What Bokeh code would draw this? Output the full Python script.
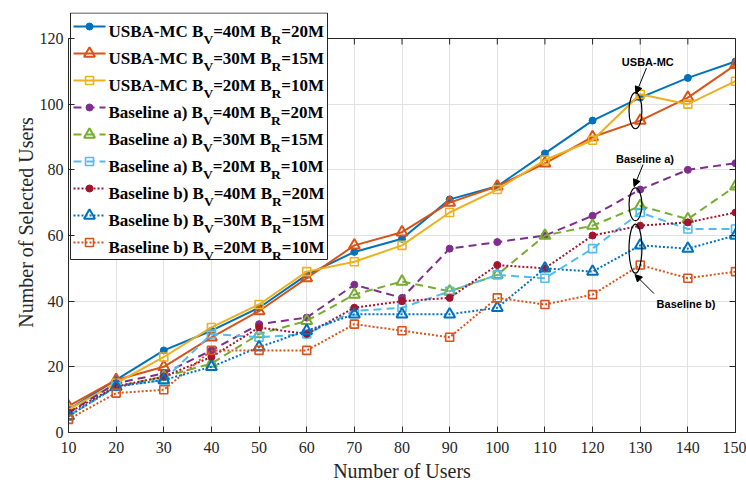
from bokeh.plotting import figure
from bokeh.models import (Range1d, LinearAxis, FixedTicker, Label, Arrow,
                          NormalHead, ColumnDataSource)
from bokeh.embed import file_html
from bokeh.resources import INLINE

# ---------------- data ----------------
users = [10, 20, 30, 40, 50, 60, 70, 80, 90, 100, 110, 120, 130, 140, 150]
usba_40_20 = [7, 16, 25, 31, 38, 48, 55, 59, 71, 75, 85, 95, 102, 108, 113]
usba_30_15 = [8, 16, 20, 29, 37, 47, 57, 61, 70, 75, 82, 90, 95, 102, 112]
usba_20_10 = [7, 15, 23, 32, 39, 49, 52, 57, 67, 74, 83, 89, 103, 100, 107]
base_a_40_20 = [6, 15, 18, 25, 33, 35, 45, 41, 56, 58, 60, 66, 74, 80, 82]
base_a_30_15 = [5, 14, 17, 21, 30, 34, 42, 46, 43, 48, 60, 63, 69, 65, 75]
base_a_20_10 = [5, 14, 16, 30, 29, 30, 37, 38, 43, 48, 47, 56, 67, 62, 62]
base_b_40_20 = [6, 14, 17, 23, 32, 30, 38, 40, 41, 51, 50, 60, 63, 64, 67]
base_b_30_15 = [5, 14, 16, 20, 26, 31, 36, 36, 36, 38, 50, 49, 57, 56, 60]
base_b_20_10 = [4, 12, 13, 25, 25, 25, 33, 31, 29, 41, 39, 42, 51, 47, 49]

series_prefix = ["USBA-MC", "USBA-MC", "USBA-MC",
                 "Baseline a)", "Baseline a)", "Baseline a)",
                 "Baseline b)", "Baseline b)", "Baseline b)"]
bv_labels = ["40M", "30M", "20M", "40M", "30M", "20M", "40M", "30M", "20M"]
br_labels = ["20M", "15M", "10M", "20M", "15M", "10M", "20M", "15M", "10M"]
x_ticks = users
y_ticks = [0, 20, 40, 60, 80, 100, 120]
callout_texts = ["USBA-MC", "Baseline a)", "Baseline b)"]

series = [usba_40_20, usba_30_15, usba_20_10,
          base_a_40_20, base_a_30_15, base_a_20_10,
          base_b_40_20, base_b_30_15, base_b_20_10]

# ---------------- styles ----------------
colors = ["#0072BD", "#D95319", "#EDB120",
          "#7E2F8E", "#77AC30", "#4DBEEE",
          "#A2142F", "#0072BD", "#D95319"]
dashes = ["solid"] * 3 + ["8 5"] * 3 + ["2 2"] * 3
markers = ["circle", "triangle", "square"] * 3

SERIF = "Liberation Serif"
SANS = "Liberation Sans"
AX = "#262626"

W, H = 746, 484
L, R, T, B = 68, 11, 12, 52      # frame borders (frame top extends above the axes box)
BOX_TOP = 38                     # screen y of the y=120 box edge
XMIN, XMAX = 10, 150
YMAX = 120.0
FW = W - L - R
yscale = (H - B - BOX_TOP) / YMAX
y_top = YMAX + (BOX_TOP - T) / yscale


def px2x(sx):
    return XMIN + (sx - L) * (XMAX - XMIN) / FW


def px2y(sy):
    return (H - B - sy) / yscale


p = figure(width=W, height=H, output_backend="svg", toolbar_location=None,
           x_range=Range1d(XMIN, XMAX), y_range=Range1d(0, y_top),
           min_border_left=L, min_border_right=R, min_border_top=T, min_border_bottom=B)
p.background_fill_color = "white"
p.border_fill_color = "white"
p.outline_line_color = None

for ax in (p.xaxis[0], p.yaxis[0]):
    ax.major_label_text_font = SERIF
    ax.major_label_text_font_size = "16px"
    ax.major_label_text_color = AX
    ax.axis_label_text_font = SERIF
    ax.axis_label_text_font_size = "20px"
    ax.axis_label_text_font_style = "normal"
    ax.axis_label_text_color = AX
    ax.axis_line_color = AX
    ax.major_tick_line_color = AX
    ax.major_tick_in = 6
    ax.major_tick_out = 0
    ax.minor_tick_line_color = None

p.xaxis[0].ticker = FixedTicker(ticks=x_ticks)
p.yaxis[0].ticker = FixedTicker(ticks=y_ticks)
p.yaxis[0].bounds = (0, YMAX)
p.xaxis[0].axis_label = "Number of Users"
p.yaxis[0].axis_label = "Number of Selected Users"
p.xaxis[0].major_label_standoff = 9
p.yaxis[0].major_label_standoff = 5
p.xaxis[0].axis_label_standoff = 4
p.yaxis[0].axis_label_standoff = 0

right_ax = LinearAxis(ticker=FixedTicker(ticks=y_ticks), bounds=(0, YMAX))
right_ax.major_label_text_font_size = "1px"
right_ax.major_label_text_color = None
right_ax.major_label_standoff = 0
right_ax.axis_line_color = AX
right_ax.major_tick_line_color = AX
right_ax.major_tick_in = 6
right_ax.major_tick_out = 0
right_ax.minor_tick_line_color = None
p.add_layout(right_ax, "right")

p.xgrid.ticker = FixedTicker(ticks=x_ticks)
p.ygrid.ticker = FixedTicker(ticks=y_ticks)
p.xgrid.grid_line_color = "#e2e2e2"
p.ygrid.grid_line_color = "#e2e2e2"

# white strip above the box (hides grid lines), then the top box edge with inward ticks
p.quad(left=XMIN, right=XMAX, bottom=YMAX, top=y_top, fill_color="white",
       line_color=None)
p.line(x=[XMIN, XMAX], y=[YMAX, YMAX], line_color=AX, line_width=1)
p.segment(x0=x_ticks, y0=[YMAX] * len(x_ticks), x1=x_ticks,
          y1=[YMAX - 6 / yscale] * len(x_ticks), line_color=AX, line_width=1)


def draw_marker(xs, ys, m, c):
    if m == "circle":
        p.scatter(xs, ys, marker="circle", size=7, fill_color=c, line_color=c,
                  line_width=1)
    elif m == "triangle":
        p.scatter(xs, ys, marker="triangle", size=11, fill_color=None,
                  line_color=c, line_width=2)
    else:
        p.scatter(xs, ys, marker="square", size=8, fill_color=None,
                  line_color=c, line_width=1.6)


for ys, c, d, m in zip(series, colors, dashes, markers):
    src = ColumnDataSource(dict(x=users, y=ys))
    p.line("x", "y", source=src, line_color=c, line_width=2, line_dash=d)
    draw_marker(users, ys, m, c)

# ---------------- callouts (ellipses around the x=130 groups) ----------------
groups = [series[0:3], series[3:6], series[6:9]]
idx130 = users.index(130)
ex, ey, eh = [], [], []
for g in groups:
    vals = [s[idx130] for s in g]
    ex.append(129)
    ey.append((min(vals) + max(vals)) / 2 - 1)
    eh.append(max(vals) - min(vals) + 3)
p.ellipse(x=ex, y=ey, width=2.7, height=eh, fill_color=None,
          line_color="black", line_width=1.2)

label_pos = [(131.6, 112.7), (131.0, 83.2), (139.6, 39.0)]
arrows = [((131.3, 111.0), (129.1, 103.2)),
          ((130.6, 81.6), (128.7, 74.9)),
          ((132.9, 42.3), (128.9, 48.1))]
for (tx, ty), txt in zip(label_pos, callout_texts):
    p.add_layout(Label(x=tx, y=ty, text=txt, text_align="center",
                       text_baseline="middle", text_font=SANS,
                       text_font_style="bold", text_font_size="11px",
                       text_color="black"))
for (s, e) in arrows:
    p.add_layout(Arrow(x_start=s[0], y_start=s[1], x_end=e[0], y_end=e[1],
                       line_color="black", line_width=1,
                       end=NormalHead(size=7, fill_color="black", line_color="black")))

# ---------------- legend (drawn by hand to allow subscripts) ----------------
LEG_L, LEG_R, LEG_T, LEG_B = 70, 327, 12.5, 259
ROW0, PITCH = 26, 27
KEY_L, KEY_R, TEXT_X = 73, 105, 108

p.quad(left=px2x(LEG_L), right=px2x(LEG_R), top=px2y(LEG_T), bottom=px2y(LEG_B),
       fill_color="white", line_color=AX, line_width=1)

TB = {' ': 250, '(': 333, ')': 333, '-': 333, '=': 570, '0': 500, '1': 500,
      '2': 500, '3': 500, '4': 500, '5': 500, 'A': 722, 'B': 667, 'C': 722,
      'M': 944, 'R': 722, 'S': 556, 'U': 722, 'V': 722, 'a': 500, 'b': 556,
      'e': 444, 'i': 278, 'l': 278, 'n': 556, 's': 389}


def tw(s, size):
    return sum(TB.get(ch, 500) for ch in s) * size / 1000.0


MAIN, SUB = 17, 13.5
for i, (pre, bv, br, c, d, m) in enumerate(zip(series_prefix, bv_labels, br_labels,
                                                colors, dashes, markers)):
    rc = ROW0 + i * PITCH
    p.line(x=[px2x(KEY_L), px2x(KEY_R)], y=[px2y(rc), px2y(rc)], line_color=c,
           line_width=2, line_dash=d)
    draw_marker([px2x((KEY_L + KEY_R) / 2)], [px2y(rc)], m, c)
    base = rc + 4.5
    subbase = base + 8.5
    parts = [(pre + " B", MAIN, base), ("V", SUB, subbase),
             ("=" + bv + " B", MAIN, base), ("R", SUB, subbase),
             ("=" + br, MAIN, base)]
    xo = TEXT_X - L
    for txt, sz, bl in parts:
        p.add_layout(Label(x=XMIN, y=YMAX, x_offset=xo, y_offset=-(bl - BOX_TOP),
                           text=txt, text_font=SERIF, text_font_style="bold",
                           text_font_size=f"{sz}px", text_color="black",
                           text_baseline="alphabetic", text_align="left"))
        xo += tw(txt, sz)

open("out.html", "w").write(file_html(p, INLINE))
